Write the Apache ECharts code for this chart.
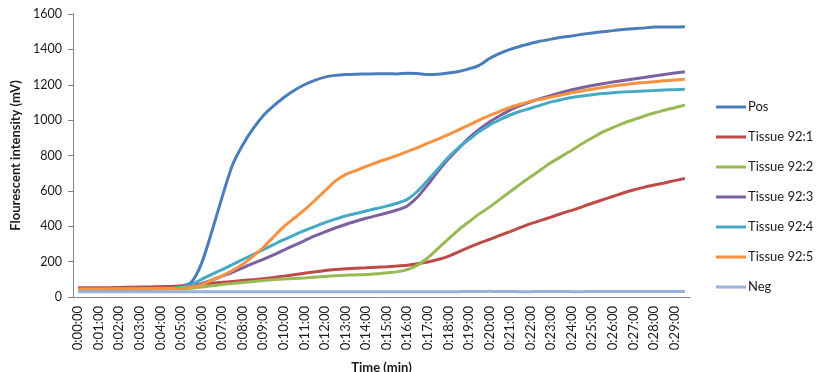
<!DOCTYPE html>
<html>
<head>
<meta charset="utf-8">
<script src="https://cdn.jsdelivr.net/npm/echarts@6/dist/echarts.min.js"></script>
<style>html,body{margin:0;padding:0;background:#fff;}#c{width:833px;height:372px;}</style>
</head>
<body>
<div id="c"></div>
<script>
const times = ["0:00:00","0:00:30","0:01:00","0:01:30","0:02:00","0:02:30","0:03:00","0:03:30","0:04:00","0:04:30",
"0:05:00","0:05:30","0:06:00","0:06:30","0:07:00","0:07:30","0:08:00","0:08:30","0:09:00","0:09:30",
"0:10:00","0:10:30","0:11:00","0:11:30","0:12:00","0:12:30","0:13:00","0:13:30","0:14:00","0:14:30",
"0:15:00","0:15:30","0:16:00","0:16:30","0:17:00","0:17:30","0:18:00","0:18:30","0:19:00","0:19:30",
"0:20:00","0:20:30","0:21:00","0:21:30","0:22:00","0:22:30","0:23:00","0:23:30","0:24:00","0:24:30",
"0:25:00","0:25:30","0:26:00","0:26:30","0:27:00","0:27:30","0:28:00","0:28:30","0:29:00","0:29:30"];

const pos = [45,46,47,48,49,50,52,53,55,57,62,82,190,370,565,745,860,950,1025,1080,
1128,1168,1200,1225,1243,1253,1258,1260,1261,1262,1262,1261,1265,1264,1258,1260,1266,1275,1290,1310,
1348,1377,1400,1418,1433,1447,1458,1468,1476,1485,1493,1500,1506,1512,1517,1521,1526,1527,1527,1528];

const t1 = [52,52,53,53,54,55,56,57,58,60,62,66,72,78,83,88,93,98,103,110,
118,126,134,142,150,156,160,163,165,168,171,175,180,188,198,212,230,255,280,305,
325,348,370,393,415,433,452,472,490,510,530,550,568,588,605,620,633,645,658,670];

const t2 = [42,42,42,43,43,43,44,44,45,45,46,50,57,63,70,76,82,88,93,98,
102,105,108,112,116,120,123,125,127,131,137,142,155,180,222,275,328,380,425,470,
508,552,595,638,680,720,760,795,830,866,900,932,958,982,1002,1022,1040,1056,1070,1085];

const t3 = [44,44,44,45,45,46,46,47,48,49,52,58,75,95,118,140,165,190,213,238,
265,292,318,345,368,390,410,428,445,460,475,492,515,565,635,710,780,840,900,948,
990,1025,1057,1082,1104,1123,1140,1156,1172,1184,1196,1206,1215,1224,1233,1241,1250,1258,1266,1274];

const t4 = [42,42,43,43,44,44,45,46,47,48,55,68,100,128,155,183,212,240,268,296,
324,350,375,398,420,440,458,472,486,500,514,530,552,598,660,725,790,845,890,935,
972,1002,1029,1050,1067,1085,1103,1116,1128,1137,1144,1150,1155,1159,1162,1165,1167,1170,1172,1174];

const t5 = [45,45,45,46,46,46,47,47,48,48,50,55,68,95,120,150,185,230,280,340,
398,445,492,545,600,655,692,715,738,760,780,800,822,845,870,893,918,945,972,1000,
1025,1050,1072,1090,1106,1118,1130,1142,1155,1165,1175,1185,1193,1200,1207,1212,1217,1222,1227,1231];

const neg = [30,30,30,30,30,30,30,30,30,30,30,30,30,30,30,30,30,30,30,30,
30,30,30,30,30,30,30,30,30,30,30,30,30,30,30,30,30,30,31,31,
32,31,31,30,30,31,31,31,30,30,31,31,31,31,31,31,31,31,31,31];

const seriesNames = ["Pos","Tissue 92:1","Tissue 92:2","Tissue 92:3","Tissue 92:4","Tissue 92:5","Neg"];
const seriesData = [pos,t1,t2,t3,t4,t5,neg];
const colors = ["#4A7EBB","#BE4B48","#98B954","#7D60A0","#46AAC5","#F69240","#98B2D9"];
const yTicks = {min:0,max:1600,interval:200};

const font = "Lato, 'Open Sans', sans-serif";
const chart = echarts.init(document.getElementById('c'), null, {renderer:'canvas'});
chart.setOption({
  animation:false,
  backgroundColor:'#ffffff',
  color: colors,
  grid:{left:73,right:143,top:14,bottom:75,containLabel:false,outerBoundsMode:'none'},
  legend:{
    orient:'vertical', left:711, top:94,
    icon:'rect', itemWidth:30, itemHeight:3, itemGap:14,
    textStyle:{fontFamily:font,fontSize:13,color:'#1a1a1a',lineHeight:16,padding:[0,0,0,-3]},
    data: seriesNames
  },
  xAxis:{
    type:'category', data:times, boundaryGap:true,
    name:'Time (min)', nameLocation:'middle', nameGap:64,
    nameTextStyle:{fontFamily:font,fontSize:13,fontWeight:'bold',color:'#1a1a1a'},
    axisLine:{lineStyle:{color:'#868686',width:1}},
    axisTick:{show:false},
    axisLabel:{rotate:90,interval:1,fontFamily:font,fontSize:13,color:'#1a1a1a',margin:9}
  },
  yAxis:{
    type:'value', min:yTicks.min, max:yTicks.max, interval:yTicks.interval,
    name:'Flourescent intensity (mV)', nameLocation:'middle', nameGap:48, nameRotate:90,
    nameTextStyle:{fontFamily:font,fontSize:13,fontWeight:'bold',color:'#1a1a1a'},
    axisLine:{show:true,lineStyle:{color:'#868686',width:1}},
    axisTick:{show:true,length:5,lineStyle:{color:'#868686'}},
    splitLine:{show:false},
    axisLabel:{fontFamily:font,fontSize:12.5,color:'#1a1a1a',margin:11,formatter:function(v){return String(v);}}
  },
  series: seriesNames.map((n,i)=>({
    name:n, type:'line', data:seriesData[i], showSymbol:false, symbol:'none',
    smooth:0.25, lineStyle:{width:3,color:colors[i]}, itemStyle:{color:colors[i]}
  }))
});
</script>
</body>
</html>
